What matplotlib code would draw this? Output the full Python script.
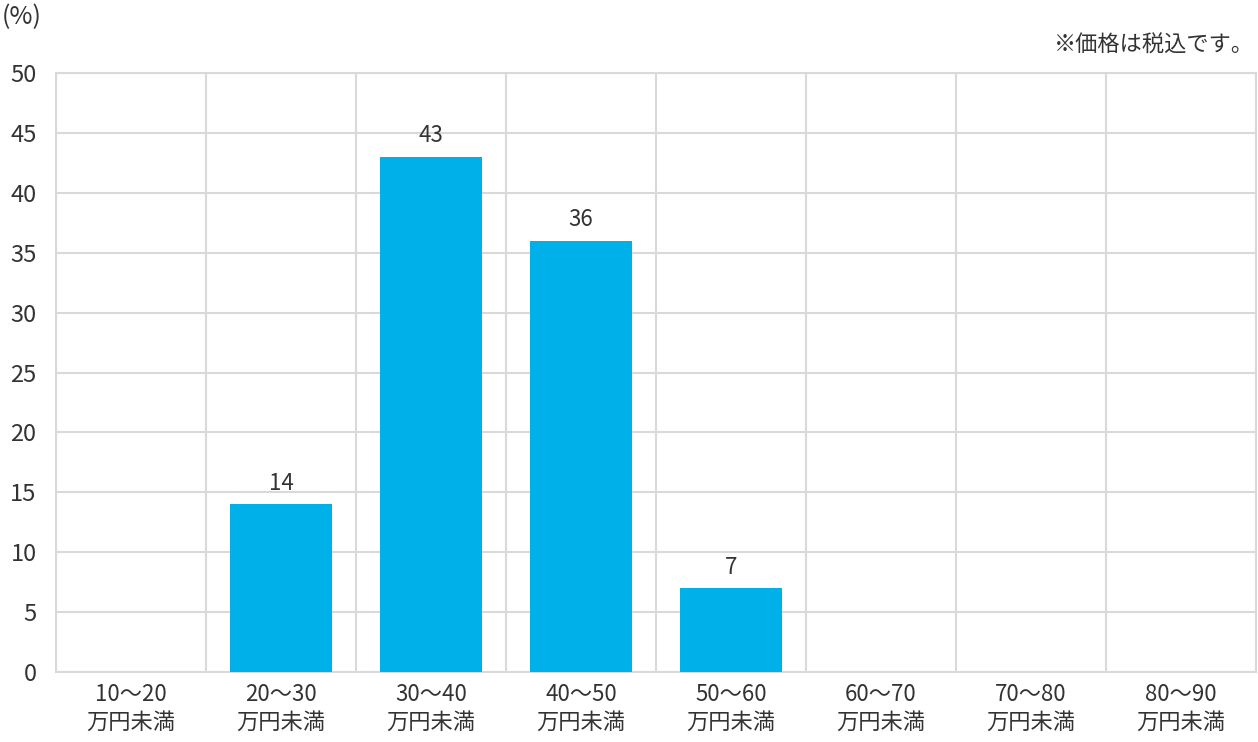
import numpy as np
import matplotlib.pyplot as plt

plt.rcParams['font.family'] = ['Noto Sans CJK JP', 'DejaVu Sans']

# データ
categories = ['10～20\n万円未満', '20～30\n万円未満', '30～40\n万円未満', '40～50\n万円未満',
              '50～60\n万円未満', '60～70\n万円未満', '70～80\n万円未満', '80～90\n万円未満']
values = [0, 14, 43, 36, 7, 0, 0, 0]
yticks = [0, 5, 10, 15, 20, 25, 30, 35, 40, 45, 50]

fig = plt.figure(figsize=(12.58, 7.42), dpi=100)
ax = fig.add_axes([56/1258, 70/742, 1200/1258, 599/742])

x = np.arange(len(categories))
ax.bar(x, values, width=0.68, color='#00B0E8', zorder=3)

for xi, v in zip(x, values):
    if v > 0:
        ax.text(xi, v + 0.8, str(v), ha='center', va='bottom', fontsize=16, color='#333333')

ax.set_xlim(-0.5, len(categories) - 0.5)
ax.set_ylim(0, 50)
ax.set_yticks(yticks)
ax.set_yticklabels([str(t) for t in yticks], fontsize=17, color='#333333')
ax.set_xticks(x)
ax.set_xticklabels(categories, fontsize=16, color='#333333', linespacing=1.25)

# グリッド
ax.set_xticks(np.arange(len(categories) + 1) - 0.5, minor=True)
ax.grid(True, axis='y', color='#D9D9D9', linewidth=1.5, zorder=0)
ax.grid(True, axis='x', which='minor', color='#D9D9D9', linewidth=1.5, zorder=0)
ax.tick_params(axis='both', which='both', length=0)
ax.tick_params(axis='y', pad=14)
ax.tick_params(axis='x', pad=8)
for s in ax.spines.values():
    s.set_color('#D9D9D9')
    s.set_linewidth(1.5)

fig.text(2/1258, 1 - 17/742, '(%)', fontsize=18, color='#333333', va='center', ha='left')
fig.text(1254/1258, 1 - 45/742, '※価格は税込です。', fontsize=16, color='#333333', va='center', ha='right')

plt.savefig('out.png', dpi=100)
